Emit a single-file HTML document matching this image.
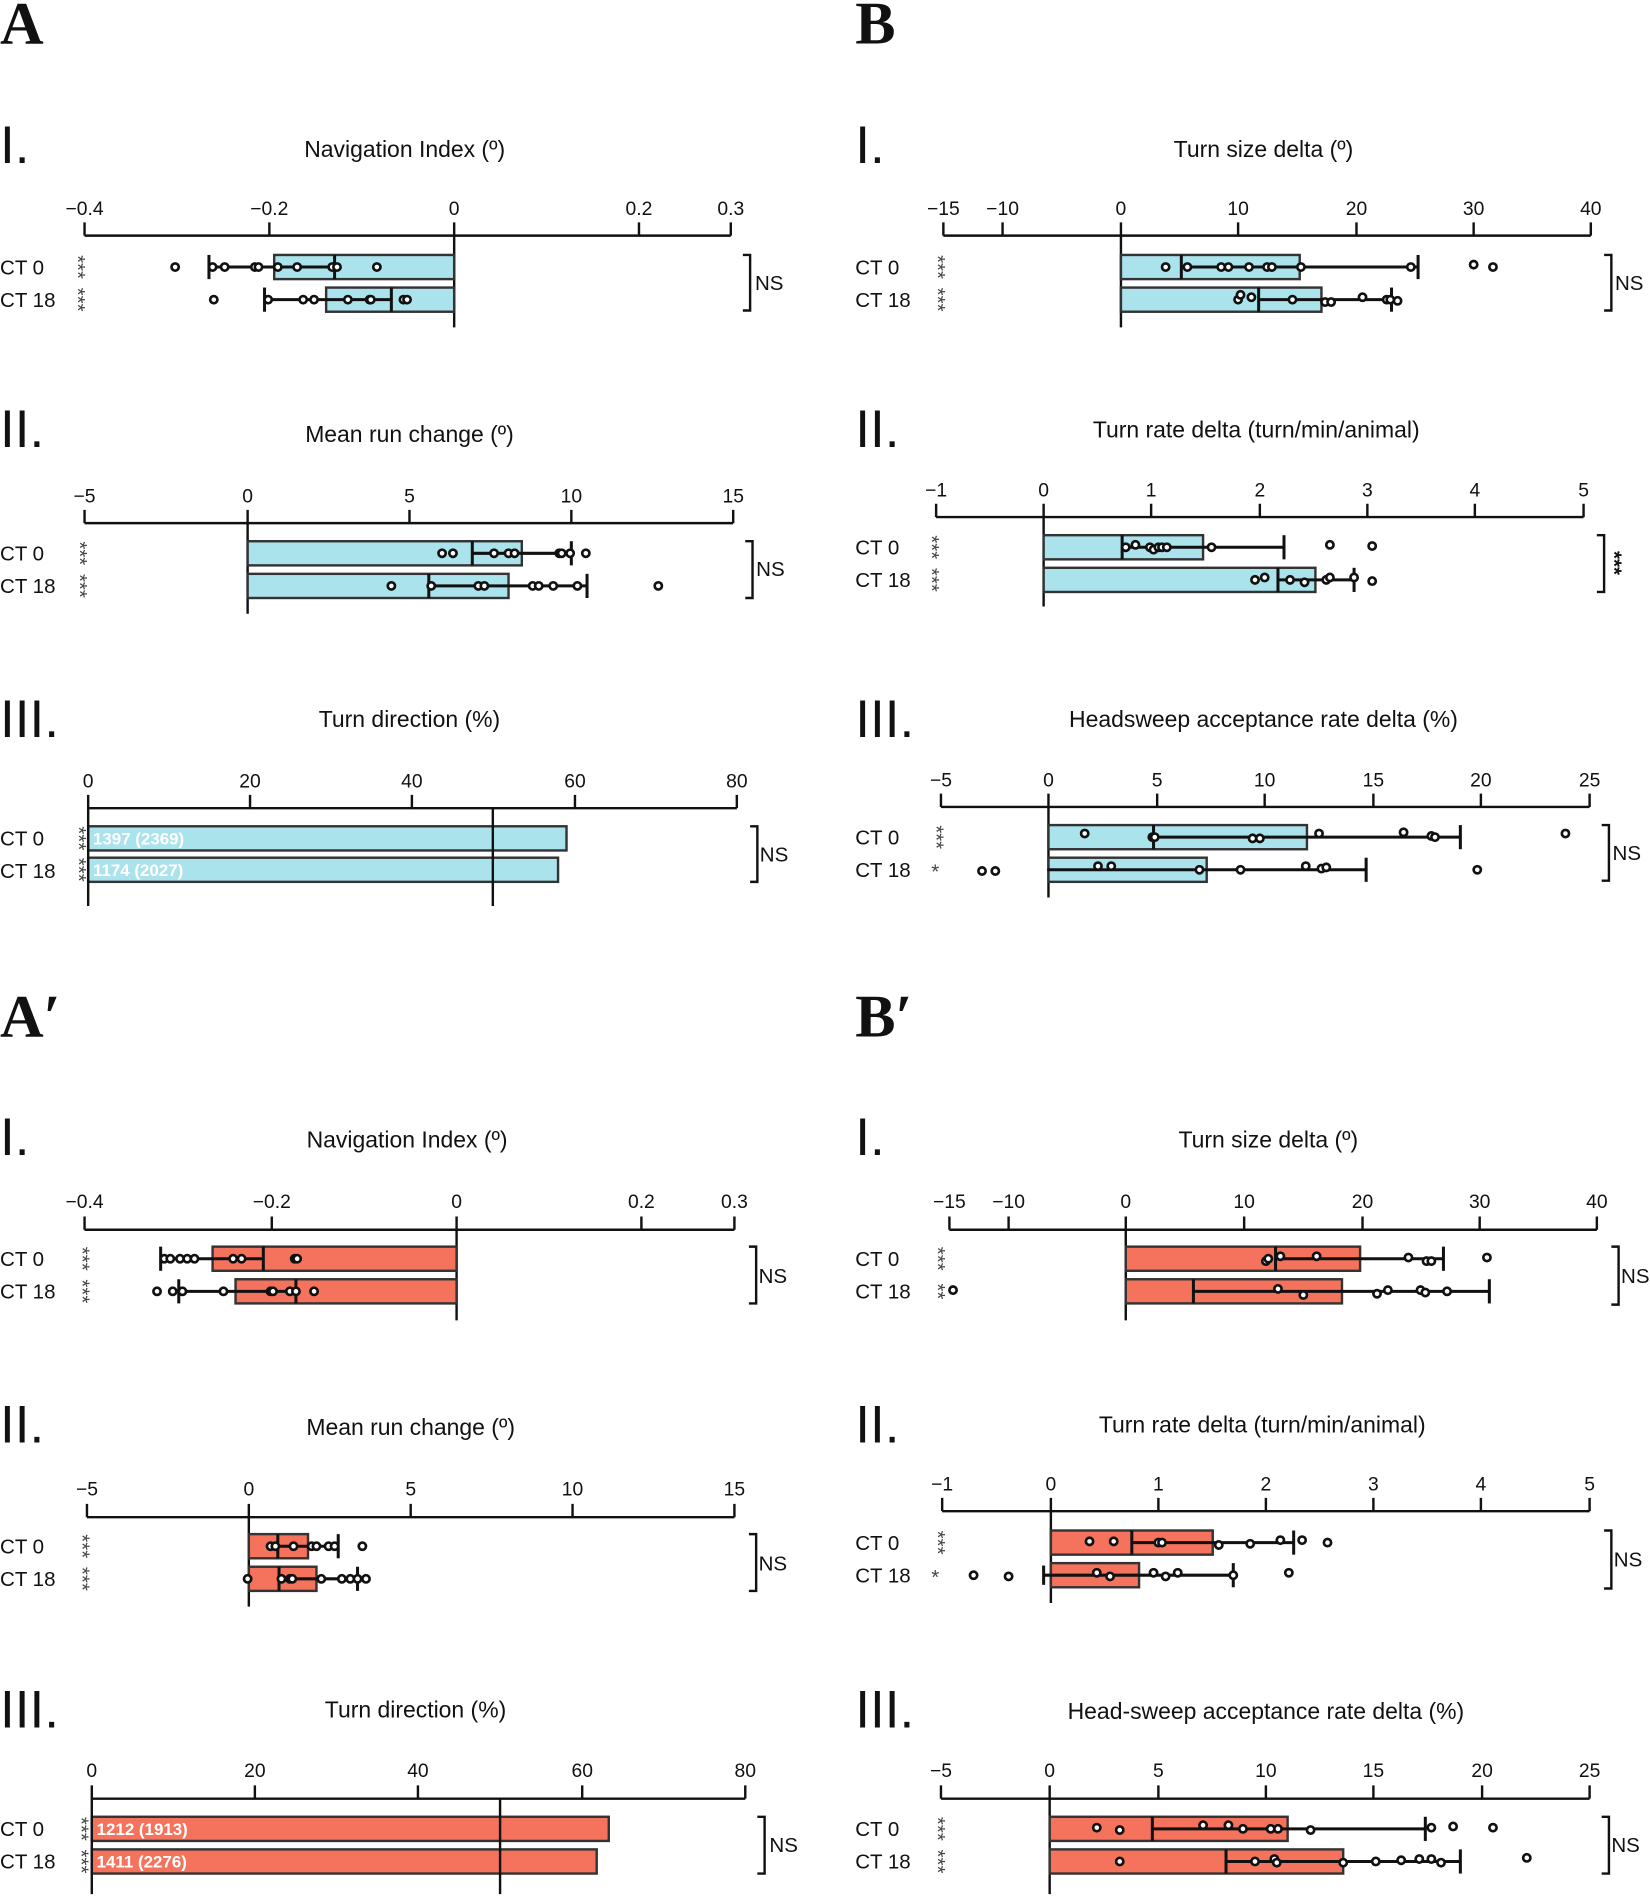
<!DOCTYPE html>
<html><head><meta charset="utf-8"><style>
html,body{margin:0;padding:0;background:#fff}
svg{display:block}
text{font-family:"Liberation Sans Narrow","Liberation Sans",sans-serif;fill:#111}
.t{font-size:19px;text-anchor:middle}
.k{font-size:16px;text-anchor:middle}
.r{font-size:17px}
.n{font-size:44px}
.L{font-family:"Liberation Serif",serif;font-size:50px;font-weight:bold}
.ax line,.ax path{stroke:#111;stroke-width:2;fill:none}
.b{fill:#abe3ed;stroke:#333;stroke-width:2}
.o{fill:#f5735c;stroke:#333;stroke-width:2}
.e line{stroke:#111;stroke-width:2.5}
circle{fill:#fff;stroke:#111;stroke-width:2.2}
.w{fill:#fff;font-size:14px;font-family:"Liberation Sans",sans-serif;font-weight:bold}
.s{font-size:17px;fill:#444;dominant-baseline:central}
</style></head><body>
<svg width="1650" height="1899" viewBox="0 0 1366 1572" xmlns="http://www.w3.org/2000/svg">
<text class="L" x="0" y="36">A</text>
<text class="L" x="708" y="36">B</text>
<text class="L" x="0" y="858">A′</text>
<text class="L" x="708" y="858">B′</text>

<!-- A-I -->
<text class="n" x="0" y="135">I.</text>
<text class="t" x="335" y="130">Navigation Index (º)</text>
<g class="ax"><line x1="70" y1="195" x2="605" y2="195"/>
<path d="M70 184V195M223 184V195M376 184V271M529 184V195M605 184V195"/></g>
<text class="k" x="70" y="178">−0.4</text><text class="k" x="223" y="178">−0.2</text><text class="k" x="376" y="178">0</text><text class="k" x="529" y="178">0.2</text><text class="k" x="605" y="178">0.3</text>
<text class="r" x="0" y="227">CT 0</text><text class="r" x="0" y="254">CT 18</text>
<text class="s" transform="translate(64,221) rotate(90)" text-anchor="middle">***</text>
<text class="s" transform="translate(64,248) rotate(90)" text-anchor="middle">***</text>
<rect class="b" x="227" y="211" width="149" height="20"/><rect class="b" x="270" y="238" width="106" height="20"/>
<g class="e"><line x1="277" y1="211" x2="277" y2="231"/><line x1="173" y1="221" x2="277" y2="221"/><line x1="173" y1="211" x2="173" y2="231"/>
<line x1="324" y1="238" x2="324" y2="258"/><line x1="219" y1="248" x2="324" y2="248"/><line x1="219" y1="238" x2="219" y2="258"/></g>
<g><circle cx="145" cy="221" r="3"/><circle cx="176" cy="221" r="3"/><circle cx="186" cy="221" r="3"/><circle cx="211" cy="221" r="3"/><circle cx="214" cy="221" r="3"/><circle cx="230" cy="221" r="3"/><circle cx="246" cy="221" r="3"/><circle cx="275" cy="221" r="3"/><circle cx="279" cy="221" r="3"/><circle cx="312" cy="221" r="3"/>
<circle cx="177" cy="248" r="3"/><circle cx="222" cy="248" r="3"/><circle cx="251" cy="248" r="3"/><circle cx="260" cy="248" r="3"/><circle cx="288" cy="248" r="3"/><circle cx="306" cy="248" r="3"/><circle cx="307" cy="248" r="3"/><circle cx="334" cy="248" r="3"/><circle cx="337" cy="248" r="3"/></g>
<path d="M615 211H621V257H615" stroke="#111" stroke-width="2" fill="none"/><text class="r" x="625" y="240">NS</text>

<!-- A-II -->
<text class="n" x="0" y="370">II.</text>
<text class="t" x="339" y="366">Mean run change (º)</text>
<g class="ax"><line x1="70" y1="433" x2="607" y2="433"/>
<path d="M70 422V433M205 422V508M339 422V433M473 422V433M607 422V433"/></g>
<text class="k" x="70" y="416">−5</text><text class="k" x="205" y="416">0</text><text class="k" x="339" y="416">5</text><text class="k" x="473" y="416">10</text><text class="k" x="607" y="416">15</text>
<text class="r" x="0" y="464">CT 0</text><text class="r" x="0" y="491">CT 18</text>
<text class="s" transform="translate(66,458) rotate(90)" text-anchor="middle">***</text>
<text class="s" transform="translate(66,485) rotate(90)" text-anchor="middle">***</text>
<rect class="b" x="205" y="448" width="227" height="20"/><rect class="b" x="205" y="475" width="216" height="20"/>
<g class="e"><line x1="391" y1="448" x2="391" y2="468"/><line x1="391" y1="458" x2="473" y2="458"/><line x1="473" y1="448" x2="473" y2="468"/>
<line x1="355" y1="475" x2="355" y2="495"/><line x1="355" y1="485" x2="486" y2="485"/><line x1="486" y1="475" x2="486" y2="495"/></g>
<g><circle cx="366" cy="458" r="3"/><circle cx="375" cy="458" r="3"/><circle cx="409" cy="458" r="3"/><circle cx="421" cy="458" r="3"/><circle cx="426" cy="458" r="3"/><circle cx="463" cy="458" r="3"/><circle cx="465" cy="458" r="3"/><circle cx="472" cy="458" r="3"/><circle cx="485" cy="458" r="3"/>
<circle cx="324" cy="485" r="3"/><circle cx="357" cy="485" r="3"/><circle cx="396" cy="485" r="3"/><circle cx="401" cy="485" r="3"/><circle cx="441" cy="485" r="3"/><circle cx="446" cy="485" r="3"/><circle cx="458" cy="485" r="3"/><circle cx="478" cy="485" r="3"/><circle cx="545" cy="485" r="3"/></g>
<path d="M617 448H623V495H617" stroke="#111" stroke-width="2" fill="none"/><text class="r" x="626" y="477">NS</text>

<!-- A-III -->
<text class="n" x="0" y="610">III.</text>
<text class="t" x="339" y="602">Turn direction (%)</text>
<rect class="b" x="73" y="684" width="396" height="20"/><rect class="b" x="73" y="710" width="389" height="20"/>
<g class="ax"><line x1="73" y1="669" x2="610" y2="669"/>
<path d="M73 658V750M207 658V669M341 658V669M476 658V669M610 658V669M408 669V750"/></g>
<text class="k" x="73" y="652">0</text><text class="k" x="207" y="652">20</text><text class="k" x="341" y="652">40</text><text class="k" x="476" y="652">60</text><text class="k" x="610" y="652">80</text>
<text class="r" x="0" y="700">CT 0</text><text class="r" x="0" y="727">CT 18</text>
<text class="s" transform="translate(65,694) rotate(90)" text-anchor="middle">***</text>
<text class="s" transform="translate(65,720) rotate(90)" text-anchor="middle">***</text>
<text class="w" x="77" y="699">1397 (2369)</text><text class="w" x="77" y="725">1174 (2027)</text>
<path d="M621 684H627V730H621" stroke="#111" stroke-width="2" fill="none"/><text class="r" x="629" y="713">NS</text>

<!-- A'-I -->
<text class="n" x="0" y="956">I.</text>
<text class="t" x="337" y="950">Navigation Index (º)</text>
<g class="ax"><line x1="70" y1="1018" x2="608" y2="1018"/>
<path d="M70 1007V1018M225 1007V1018M378 1007V1093M531 1007V1018M608 1007V1018"/></g>
<text class="k" x="70" y="1000">−0.4</text><text class="k" x="225" y="1000">−0.2</text><text class="k" x="378" y="1000">0</text><text class="k" x="531" y="1000">0.2</text><text class="k" x="608" y="1000">0.3</text>
<text class="r" x="0" y="1048">CT 0</text><text class="r" x="0" y="1075">CT 18</text>
<text class="s" transform="translate(68,1042) rotate(90)" text-anchor="middle">***</text>
<text class="s" transform="translate(68,1069) rotate(90)" text-anchor="middle">***</text>
<rect class="o" x="176" y="1032" width="202" height="20"/><rect class="o" x="195" y="1059" width="183" height="20"/>
<g class="e"><line x1="218" y1="1032" x2="218" y2="1052"/><line x1="133" y1="1042" x2="218" y2="1042"/><line x1="133" y1="1032" x2="133" y2="1052"/>
<line x1="245" y1="1059" x2="245" y2="1079"/><line x1="148" y1="1069" x2="245" y2="1069"/><line x1="148" y1="1059" x2="148" y2="1079"/></g>
<g><circle cx="136" cy="1042" r="3"/><circle cx="141" cy="1042" r="3"/><circle cx="149" cy="1042" r="3"/><circle cx="155" cy="1042" r="3"/><circle cx="161" cy="1042" r="3"/><circle cx="193" cy="1042" r="3"/><circle cx="200" cy="1042" r="3"/><circle cx="244" cy="1042" r="3"/><circle cx="246" cy="1042" r="3"/>
<circle cx="130" cy="1069" r="3"/><circle cx="143" cy="1069" r="3"/><circle cx="151" cy="1069" r="3"/><circle cx="185" cy="1069" r="3"/><circle cx="224" cy="1069" r="3"/><circle cx="226" cy="1069" r="3"/><circle cx="240" cy="1069" r="3"/><circle cx="245" cy="1069" r="3"/><circle cx="260" cy="1069" r="3"/></g>
<path d="M620 1032H626V1079H620" stroke="#111" stroke-width="2" fill="none"/><text class="r" x="628" y="1062">NS</text>

<!-- A'-II -->
<text class="n" x="0" y="1194">II.</text>
<text class="t" x="340" y="1188">Mean run change (º)</text>
<g class="ax"><line x1="72" y1="1256" x2="608" y2="1256"/>
<path d="M72 1245V1256M206 1245V1330M340 1245V1256M474 1245V1256M608 1245V1256"/></g>
<text class="k" x="72" y="1238">−5</text><text class="k" x="206" y="1238">0</text><text class="k" x="340" y="1238">5</text><text class="k" x="474" y="1238">10</text><text class="k" x="608" y="1238">15</text>
<text class="r" x="0" y="1286">CT 0</text><text class="r" x="0" y="1313">CT 18</text>
<text class="s" transform="translate(68,1280) rotate(90)" text-anchor="middle">***</text>
<text class="s" transform="translate(68,1307) rotate(90)" text-anchor="middle">***</text>
<rect class="o" x="206" y="1270" width="49" height="20"/><rect class="o" x="206" y="1297" width="56" height="20"/>
<g class="e"><line x1="230" y1="1270" x2="230" y2="1290"/><line x1="230" y1="1280" x2="280" y2="1280"/><line x1="280" y1="1270" x2="280" y2="1290"/>
<line x1="231" y1="1297" x2="231" y2="1317"/><line x1="231" y1="1307" x2="296" y2="1307"/><line x1="296" y1="1297" x2="296" y2="1317"/></g>
<g><circle cx="224" cy="1280" r="3"/><circle cx="228" cy="1280" r="3"/><circle cx="243" cy="1280" r="3"/><circle cx="258" cy="1280" r="3"/><circle cx="262" cy="1280" r="3"/><circle cx="272" cy="1280" r="3"/><circle cx="277" cy="1280" r="3"/><circle cx="300" cy="1280" r="3"/>
<circle cx="205" cy="1307" r="3"/><circle cx="233" cy="1307" r="3"/><circle cx="240" cy="1307" r="3"/><circle cx="242" cy="1307" r="3"/><circle cx="266" cy="1307" r="3"/><circle cx="283" cy="1307" r="3"/><circle cx="290" cy="1307" r="3"/><circle cx="296" cy="1307" r="3"/><circle cx="303" cy="1307" r="3"/></g>
<path d="M620 1270H626V1317H620" stroke="#111" stroke-width="2" fill="none"/><text class="r" x="628" y="1300">NS</text>

<!-- A'-III -->
<text class="n" x="0" y="1430">III.</text>
<text class="t" x="344" y="1422">Turn direction (%)</text>
<rect class="o" x="76" y="1504" width="428" height="20"/><rect class="o" x="76" y="1531" width="418" height="20"/>
<g class="ax"><line x1="76" y1="1489" x2="617" y2="1489"/>
<path d="M76 1478V1568M211 1478V1489M346 1478V1489M482 1478V1489M617 1478V1489M414 1489V1568"/></g>
<text class="k" x="76" y="1471">0</text><text class="k" x="211" y="1471">20</text><text class="k" x="346" y="1471">40</text><text class="k" x="482" y="1471">60</text><text class="k" x="617" y="1471">80</text>
<text class="r" x="0" y="1520">CT 0</text><text class="r" x="0" y="1547">CT 18</text>
<text class="s" transform="translate(67,1514) rotate(90)" text-anchor="middle">***</text>
<text class="s" transform="translate(67,1541) rotate(90)" text-anchor="middle">***</text>
<text class="w" x="80" y="1519">1212 (1913)</text><text class="w" x="80" y="1546">1411 (2276)</text>
<path d="M627 1504H633V1551H627" stroke="#111" stroke-width="2" fill="none"/><text class="r" x="637" y="1533">NS</text>

<!-- B-I -->
<text class="n" x="708" y="135">I.</text>
<text class="t" x="1046" y="130">Turn size delta (º)</text>
<g class="ax"><line x1="781" y1="195" x2="1317" y2="195"/>
<path d="M781 184V195M830 184V195M928 184V271M1025 184V195M1123 184V195M1220 184V195M1317 184V195"/></g>
<text class="k" x="781" y="178">−15</text><text class="k" x="830" y="178">−10</text><text class="k" x="928" y="178">0</text><text class="k" x="1025" y="178">10</text><text class="k" x="1123" y="178">20</text><text class="k" x="1220" y="178">30</text><text class="k" x="1317" y="178">40</text>
<text class="r" x="708" y="227">CT 0</text><text class="r" x="708" y="254">CT 18</text>
<text class="s" transform="translate(776,221) rotate(90)" text-anchor="middle">***</text>
<text class="s" transform="translate(776,248) rotate(90)" text-anchor="middle">***</text>
<rect class="b" x="928" y="211" width="148" height="20"/><rect class="b" x="928" y="238" width="166" height="20"/>
<g class="e"><line x1="978" y1="211" x2="978" y2="231"/><line x1="978" y1="221" x2="1174" y2="221"/><line x1="1174" y1="211" x2="1174" y2="231"/>
<line x1="1042" y1="238" x2="1042" y2="258"/><line x1="1042" y1="248" x2="1152" y2="248"/><line x1="1152" y1="238" x2="1152" y2="258"/></g>
<g><circle cx="965" cy="221" r="3"/><circle cx="983" cy="221" r="3"/><circle cx="1011" cy="221" r="3"/><circle cx="1017" cy="221" r="3"/><circle cx="1034" cy="221" r="3"/><circle cx="1049" cy="221" r="3"/><circle cx="1053" cy="221" r="3"/><circle cx="1077" cy="221" r="3"/><circle cx="1168" cy="221" r="3"/><circle cx="1220" cy="219" r="3"/><circle cx="1236" cy="221" r="3"/>
<circle cx="1025" cy="248" r="3"/><circle cx="1027" cy="244" r="3"/><circle cx="1036" cy="246" r="3"/><circle cx="1070" cy="248" r="3"/><circle cx="1097" cy="250" r="3"/><circle cx="1102" cy="250" r="3"/><circle cx="1128" cy="246" r="3"/><circle cx="1148" cy="248" r="3"/><circle cx="1151" cy="248" r="3"/><circle cx="1157" cy="249" r="3"/></g>
<path d="M1328 211H1334V257H1328" stroke="#111" stroke-width="2" fill="none"/><text class="r" x="1337" y="240">NS</text>

<!-- B-II -->
<text class="n" x="708" y="370">II.</text>
<text class="t" x="1040" y="362">Turn rate delta (turn/min/animal)</text>
<g class="ax"><line x1="775" y1="428" x2="1311" y2="428"/>
<path d="M775 417V428M864 417V502M953 417V428M1043 417V428M1132 417V428M1221 417V428M1311 417V428"/></g>
<text class="k" x="775" y="411">−1</text><text class="k" x="864" y="411">0</text><text class="k" x="953" y="411">1</text><text class="k" x="1043" y="411">2</text><text class="k" x="1132" y="411">3</text><text class="k" x="1221" y="411">4</text><text class="k" x="1311" y="411">5</text>
<text class="r" x="708" y="459">CT 0</text><text class="r" x="708" y="486">CT 18</text>
<text class="s" transform="translate(771,453) rotate(90)" text-anchor="middle">***</text>
<text class="s" transform="translate(771,480) rotate(90)" text-anchor="middle">***</text>
<rect class="b" x="864" y="443" width="132" height="20"/><rect class="b" x="864" y="470" width="225" height="20"/>
<g class="e"><line x1="929" y1="443" x2="929" y2="463"/><line x1="929" y1="453" x2="1063" y2="453"/><line x1="1063" y1="443" x2="1063" y2="463"/>
<line x1="1058" y1="470" x2="1058" y2="490"/><line x1="1058" y1="480" x2="1121" y2="480"/><line x1="1121" y1="470" x2="1121" y2="490"/></g>
<g><circle cx="932" cy="453" r="3"/><circle cx="940" cy="451" r="3"/><circle cx="952" cy="453" r="3"/><circle cx="955" cy="455" r="3"/><circle cx="959" cy="453" r="3"/><circle cx="962" cy="453" r="3"/><circle cx="966" cy="453" r="3"/><circle cx="1003" cy="453" r="3"/><circle cx="1101" cy="451" r="3"/><circle cx="1136" cy="452" r="3"/>
<circle cx="1039" cy="480" r="3"/><circle cx="1047" cy="478" r="3"/><circle cx="1068" cy="480" r="3"/><circle cx="1080" cy="482" r="3"/><circle cx="1098" cy="480" r="3"/><circle cx="1101" cy="478" r="3"/><circle cx="1121" cy="478" r="3"/><circle cx="1136" cy="481" r="3"/></g>
<path d="M1322 443H1328V490H1322" stroke="#111" stroke-width="2" fill="none"/>
<text transform="translate(1331,466) rotate(90)" text-anchor="middle" style="font-size:17px;font-weight:bold">***</text>

<!-- B-III -->
<text class="n" x="708" y="610">III.</text>
<text class="t" x="1046" y="602">Headsweep acceptance rate delta (%)</text>
<g class="ax"><line x1="779" y1="668" x2="1316" y2="668"/>
<path d="M779 657V668M868 657V743M958 657V668M1047 657V668M1137 657V668M1226 657V668M1316 657V668"/></g>
<text class="k" x="779" y="651">−5</text><text class="k" x="868" y="651">0</text><text class="k" x="958" y="651">5</text><text class="k" x="1047" y="651">10</text><text class="k" x="1137" y="651">15</text><text class="k" x="1226" y="651">20</text><text class="k" x="1316" y="651">25</text>
<text class="r" x="708" y="699">CT 0</text><text class="r" x="708" y="726">CT 18</text>
<text class="s" transform="translate(775,693) rotate(90)" text-anchor="middle">***</text>
<text class="s" x="771" y="722">*</text>
<rect class="b" x="868" y="683" width="214" height="20"/><rect class="b" x="868" y="710" width="131" height="20"/>
<g class="e"><line x1="955" y1="683" x2="955" y2="703"/><line x1="955" y1="693" x2="1209" y2="693"/><line x1="1209" y1="683" x2="1209" y2="703"/>
<line x1="867" y1="720" x2="1131" y2="720"/><line x1="1131" y1="710" x2="1131" y2="730"/></g>
<g><circle cx="898" cy="690" r="3"/><circle cx="954" cy="693" r="3"/><circle cx="956" cy="693" r="3"/><circle cx="1037" cy="694" r="3"/><circle cx="1043" cy="694" r="3"/><circle cx="1092" cy="690" r="3"/><circle cx="1162" cy="689" r="3"/><circle cx="1185" cy="692" r="3"/><circle cx="1188" cy="693" r="3"/><circle cx="1296" cy="690" r="3"/>
<circle cx="813" cy="721" r="3"/><circle cx="824" cy="721" r="3"/><circle cx="909" cy="717" r="3"/><circle cx="920" cy="717" r="3"/><circle cx="993" cy="720" r="3"/><circle cx="1027" cy="720" r="3"/><circle cx="1081" cy="717" r="3"/><circle cx="1094" cy="719" r="3"/><circle cx="1098" cy="718" r="3"/><circle cx="1223" cy="720" r="3"/></g>
<path d="M1326 683H1332V729H1326" stroke="#111" stroke-width="2" fill="none"/><text class="r" x="1335" y="712">NS</text>

<!-- B'-I -->
<text class="n" x="708" y="956">I.</text>
<text class="t" x="1050" y="950">Turn size delta (º)</text>
<g class="ax"><line x1="786" y1="1018" x2="1322" y2="1018"/>
<path d="M786 1007V1018M835 1007V1018M932 1007V1093M1030 1007V1018M1128 1007V1018M1225 1007V1018M1322 1007V1018"/></g>
<text class="k" x="786" y="1000">−15</text><text class="k" x="835" y="1000">−10</text><text class="k" x="932" y="1000">0</text><text class="k" x="1030" y="1000">10</text><text class="k" x="1128" y="1000">20</text><text class="k" x="1225" y="1000">30</text><text class="k" x="1322" y="1000">40</text>
<text class="r" x="708" y="1048">CT 0</text><text class="r" x="708" y="1075">CT 18</text>
<text class="s" transform="translate(776,1042) rotate(90)" text-anchor="middle">***</text>
<text class="s" transform="translate(776,1069) rotate(90)" text-anchor="middle">**</text>
<rect class="o" x="932" y="1032" width="194" height="20"/><rect class="o" x="932" y="1059" width="179" height="20"/>
<g class="e"><line x1="1056" y1="1032" x2="1056" y2="1052"/><line x1="1056" y1="1042" x2="1195" y2="1042"/><line x1="1195" y1="1032" x2="1195" y2="1052"/>
<line x1="988" y1="1059" x2="988" y2="1079"/><line x1="988" y1="1069" x2="1233" y2="1069"/><line x1="1233" y1="1059" x2="1233" y2="1079"/></g>
<g><circle cx="1048" cy="1044" r="3"/><circle cx="1050" cy="1042" r="3"/><circle cx="1060" cy="1040" r="3"/><circle cx="1090" cy="1040" r="3"/><circle cx="1166" cy="1041" r="3"/><circle cx="1181" cy="1044" r="3"/><circle cx="1185" cy="1044" r="3"/><circle cx="1231" cy="1041" r="3"/>
<circle cx="789" cy="1068" r="3"/><circle cx="1058" cy="1067" r="3"/><circle cx="1079" cy="1072" r="3"/><circle cx="1140" cy="1071" r="3"/><circle cx="1149" cy="1068" r="3"/><circle cx="1176" cy="1068" r="3"/><circle cx="1180" cy="1070" r="3"/><circle cx="1198" cy="1069" r="3"/></g>
<path d="M1334 1032H1340V1080H1334" stroke="#111" stroke-width="2" fill="none"/><text class="r" x="1342" y="1062">NS</text>

<!-- B'-II -->
<text class="n" x="708" y="1194">II.</text>
<text class="t" x="1045" y="1186">Turn rate delta (turn/min/animal)</text>
<g class="ax"><line x1="780" y1="1251" x2="1316" y2="1251"/>
<path d="M780 1240V1251M870 1240V1327M959 1240V1251M1048 1240V1251M1137 1240V1251M1226 1240V1251M1316 1240V1251"/></g>
<text class="k" x="780" y="1234">−1</text><text class="k" x="870" y="1234">0</text><text class="k" x="959" y="1234">1</text><text class="k" x="1048" y="1234">2</text><text class="k" x="1137" y="1234">3</text><text class="k" x="1226" y="1234">4</text><text class="k" x="1316" y="1234">5</text>
<text class="r" x="708" y="1283">CT 0</text><text class="r" x="708" y="1310">CT 18</text>
<text class="s" transform="translate(776,1277) rotate(90)" text-anchor="middle">***</text>
<text class="s" x="771" y="1306">*</text>
<rect class="o" x="870" y="1267" width="134" height="20"/><rect class="o" x="870" y="1294" width="73" height="20"/>
<g class="e"><line x1="937" y1="1267" x2="937" y2="1287"/><line x1="937" y1="1277" x2="1071" y2="1277"/><line x1="1071" y1="1267" x2="1071" y2="1287"/>
<line x1="864" y1="1304" x2="1021" y2="1304"/><line x1="864" y1="1296" x2="864" y2="1312"/><line x1="1021" y1="1294" x2="1021" y2="1314"/></g>
<g><circle cx="902" cy="1276" r="3"/><circle cx="922" cy="1276" r="3"/><circle cx="959" cy="1277" r="3"/><circle cx="962" cy="1277" r="3"/><circle cx="1009" cy="1279" r="3"/><circle cx="1035" cy="1278" r="3"/><circle cx="1060" cy="1275" r="3"/><circle cx="1078" cy="1275" r="3"/><circle cx="1099" cy="1277" r="3"/>
<circle cx="806" cy="1304" r="3"/><circle cx="835" cy="1305" r="3"/><circle cx="908" cy="1302" r="3"/><circle cx="919" cy="1305" r="3"/><circle cx="955" cy="1302" r="3"/><circle cx="965" cy="1305" r="3"/><circle cx="975" cy="1302" r="3"/><circle cx="1021" cy="1304" r="3"/><circle cx="1067" cy="1302" r="3"/></g>
<path d="M1328 1267H1334V1315H1328" stroke="#111" stroke-width="2" fill="none"/><text class="r" x="1336" y="1297">NS</text>

<!-- B'-III -->
<text class="n" x="708" y="1430">III.</text>
<text class="t" x="1048" y="1423">Head-sweep acceptance rate delta (%)</text>
<g class="ax"><line x1="779" y1="1489" x2="1316" y2="1489"/>
<path d="M779 1478V1489M869 1478V1568M959 1478V1489M1048 1478V1489M1137 1478V1489M1227 1478V1489M1316 1478V1489"/></g>
<text class="k" x="779" y="1471">−5</text><text class="k" x="869" y="1471">0</text><text class="k" x="959" y="1471">5</text><text class="k" x="1048" y="1471">10</text><text class="k" x="1137" y="1471">15</text><text class="k" x="1227" y="1471">20</text><text class="k" x="1316" y="1471">25</text>
<text class="r" x="708" y="1520">CT 0</text><text class="r" x="708" y="1547">CT 18</text>
<text class="s" transform="translate(776,1514) rotate(90)" text-anchor="middle">***</text>
<text class="s" transform="translate(776,1541) rotate(90)" text-anchor="middle">***</text>
<rect class="o" x="869" y="1504" width="197" height="20"/><rect class="o" x="869" y="1531" width="243" height="20"/>
<g class="e"><line x1="954" y1="1504" x2="954" y2="1524"/><line x1="954" y1="1514" x2="1180" y2="1514"/><line x1="1180" y1="1504" x2="1180" y2="1524"/>
<line x1="1015" y1="1531" x2="1015" y2="1551"/><line x1="1015" y1="1541" x2="1209" y2="1541"/><line x1="1209" y1="1531" x2="1209" y2="1551"/></g>
<g><circle cx="908" cy="1513" r="3"/><circle cx="927" cy="1515" r="3"/><circle cx="996" cy="1511" r="3"/><circle cx="1017" cy="1511" r="3"/><circle cx="1029" cy="1514" r="3"/><circle cx="1052" cy="1514" r="3"/><circle cx="1058" cy="1514" r="3"/><circle cx="1085" cy="1515" r="3"/><circle cx="1185" cy="1513" r="3"/><circle cx="1203" cy="1512" r="3"/><circle cx="1236" cy="1513" r="3"/>
<circle cx="927" cy="1541" r="3"/><circle cx="1039" cy="1541" r="3"/><circle cx="1055" cy="1539" r="3"/><circle cx="1057" cy="1542" r="3"/><circle cx="1112" cy="1542" r="3"/><circle cx="1139" cy="1541" r="3"/><circle cx="1160" cy="1540" r="3"/><circle cx="1175" cy="1539" r="3"/><circle cx="1185" cy="1539" r="3"/><circle cx="1193" cy="1542" r="3"/><circle cx="1264" cy="1538" r="3"/></g>
<path d="M1326 1504H1332V1551H1326" stroke="#111" stroke-width="2" fill="none"/><text class="r" x="1334" y="1533">NS</text>
</svg>
</body></html>
